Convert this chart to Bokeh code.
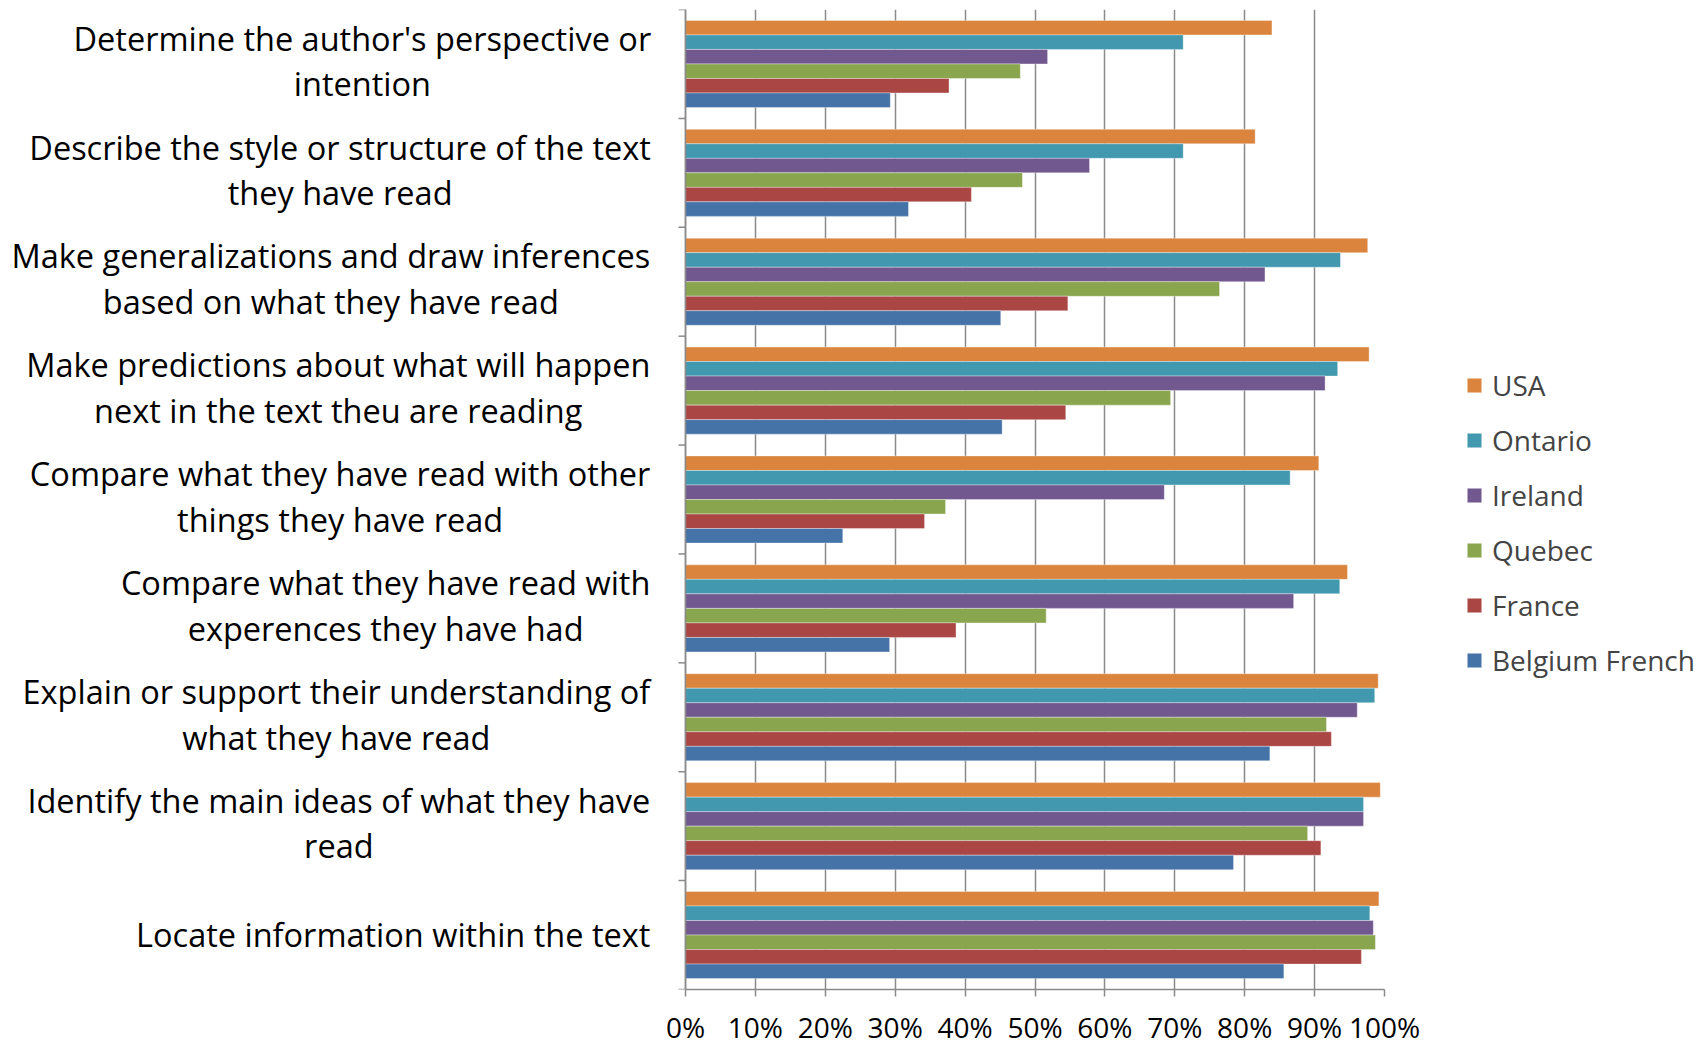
from bokeh.plotting import figure
from bokeh.models import (Range1d, FixedTicker, LinearAxis, Legend, LegendItem,
                          Grid, ColumnDataSource, Span)
from bokeh.core.properties import value
from bokeh.embed import file_html
from bokeh.resources import INLINE

# ---------------- data ----------------
categories = [
    "Determine the author's perspective or\nintention",
    "Describe the style or structure of the text\nthey have read",
    "Make generalizations and draw inferences\nbased on what they have read",
    "Make predictions about what will happen\nnext in the text theu are reading",
    "Compare what they have read with other\nthings they have read",
    "Compare what they have read with\nexperences they have had",
    "Explain or support their understanding of\nwhat they have read",
    "Identify the main ideas of what they have\nread",
    "Locate information within the text",
]
series_names = ["USA", "Ontario", "Ireland", "Quebec", "France", "Belgium French"]
usa     = [83.9, 81.5, 97.6, 97.8, 90.6, 94.7, 99.1, 99.4, 99.2]
ontario = [71.2, 71.2, 93.7, 93.3, 86.5, 93.6, 98.6, 97.0, 97.9]
ireland = [51.8, 57.8, 82.9, 91.5, 68.5, 87.0, 96.1, 97.0, 98.4]
quebec  = [47.9, 48.2, 76.4, 69.4, 37.2, 51.6, 91.7, 89.0, 98.7]
france  = [37.7, 40.9, 54.7, 54.4, 34.2, 38.7, 92.4, 90.9, 96.7]
belgium = [29.3, 31.9, 45.1, 45.3, 22.5, 29.2, 83.6, 78.4, 85.6]
series_values = [usa, ontario, ireland, quebec, france, belgium]
colors = ["#DB843D", "#4198AF", "#71588F", "#89A54E", "#AA4643", "#4572A7"]
x_ticks = [0, 10, 20, 30, 40, 50, 60, 70, 80, 90, 100]
x_tick_labels = ["0%", "10%", "20%", "30%", "40%", "50%", "60%", "70%", "80%", "90%", "100%"]

FONT = "Open Sans"
GRAY = "#8a8a8a"
LABEL_PX = 32.5

# approximate Open Sans advance widths (units per em = 2048), used only to
# centre the second line of a wrapped category label under the first one
_W = dict(zip("abcdefghijklmnopqrstuvwxyz",
              [1139, 1255, 975, 1255, 1149, 694, 1122, 1257, 518, 518, 1075, 518, 1905,
               1257, 1237, 1255, 1255, 836, 977, 723, 1257, 1026, 1593, 1073, 1028, 977]))
_W.update({" ": 532, "'": 383, "C": 1292, "D": 1479, "E": 1139, "I": 571, "L": 1092, "M": 1849})


def text_px(s, size):
    return sum(_W.get(ch, 1150) for ch in s) / 2048.0 * size


n = len(categories)
k = len(series_names)
group = 0.8
bar_h = group / k

LEFT_PX = 685          # width of the label area left of the value axis
DATA_W = 699           # pixels for 0..100 %
FRAME_H = 980
px_x = 100.0 / DATA_W  # data units per pixel (x)
px_y = float(n) / FRAME_H
x_start = -LEFT_PX * px_x

p = figure(frame_width=LEFT_PX + DATA_W, frame_height=FRAME_H,
           min_border_left=0, min_border_right=323,
           min_border_top=9, min_border_bottom=55,
           x_range=Range1d(x_start, 100), y_range=Range1d(0, n),
           x_axis_type=None, y_axis_type=None,
           output_backend="svg", toolbar_location=None)
p.outline_line_color = None
p.background_fill_color = "white"
p.border_fill_color = "white"

# vertical grid
xt = FixedTicker(ticks=x_ticks)
p.add_layout(Grid(dimension=0, ticker=xt, grid_line_color=GRAY, grid_line_width=1.5))

# bars
renderers = []
for j, (name, vals, col) in enumerate(zip(series_names, series_values, colors)):
    ys = [(n - 1 - i) + 0.5 + (2.5 - j) * bar_h for i in range(n)]
    src = ColumnDataSource(dict(y=ys, v=vals))
    r = p.hbar(y="y", left=0, right="v", height=bar_h, source=src,
               fill_color=col, line_color="white", line_alpha=0.35, line_width=1)
    renderers.append(r)

# value axis (bottom), only spanning 0..100 %
xaxis = LinearAxis(ticker=xt, bounds=(0, 100),
                   major_label_overrides={t: l for t, l in zip(x_ticks, x_tick_labels)},
                   major_tick_out=7, major_tick_in=0, minor_tick_out=0, minor_tick_in=0,
                   axis_line_color=GRAY, axis_line_width=1.5,
                   major_tick_line_color=GRAY, major_tick_line_width=1.5,
                   major_label_text_font=FONT, major_label_text_font_size="28px",
                   major_label_text_color="black", major_label_standoff=11)
p.add_layout(xaxis, "below")

# category axis line at 0 % with ticks at category boundaries
p.add_layout(Span(location=0, dimension="height", line_color=GRAY, line_width=1.5))
bounds = list(range(n + 1))
p.segment(x0=[-7 * px_x] * len(bounds), x1=[0] * len(bounds), y0=bounds, y1=bounds,
          line_color=GRAY, line_width=1.5)

# category labels: block right-aligned, lines centred within the block
right_edge = -35 * px_x
half_gap = 22.8 * px_y
lift2 = 3.0 * px_y
lift1 = 1.0 * px_y
lx, ly, lt = [], [], []
for i, lab in enumerate(categories):
    c = (n - 1 - i) + 0.5
    lines = lab.split("\n")
    if len(lines) == 1:
        w = text_px(lines[0], LABEL_PX)
        lx.append(right_edge - (w / 2.0) * px_x); ly.append(c + lift1); lt.append(lines[0])
    else:
        w = max(text_px(s, LABEL_PX) for s in lines)
        cx = right_edge - (w / 2.0) * px_x
        for li, s in enumerate(lines):
            lx.append(cx)
            ly.append(c + lift2 + (half_gap if li == 0 else -half_gap))
            lt.append(s)
p.text(x=lx, y=ly, text=lt, text_align="center", text_baseline="middle",
       text_font=value(FONT), text_font_size=value(f"{LABEL_PX}px"), text_color="black")

legend = Legend(items=[LegendItem(label=nm, renderers=[r]) for nm, r in zip(series_names, renderers)],
                location=(81, 310), orientation="vertical",
                glyph_width=18, glyph_height=18, label_standoff=9,
                label_text_font=FONT, label_text_font_size="28px",
                label_height=30, spacing=17, padding=0, margin=0,
                border_line_color=None, background_fill_alpha=0)
p.add_layout(legend, "right")

open("out.html", "w").write(file_html(p, INLINE))
